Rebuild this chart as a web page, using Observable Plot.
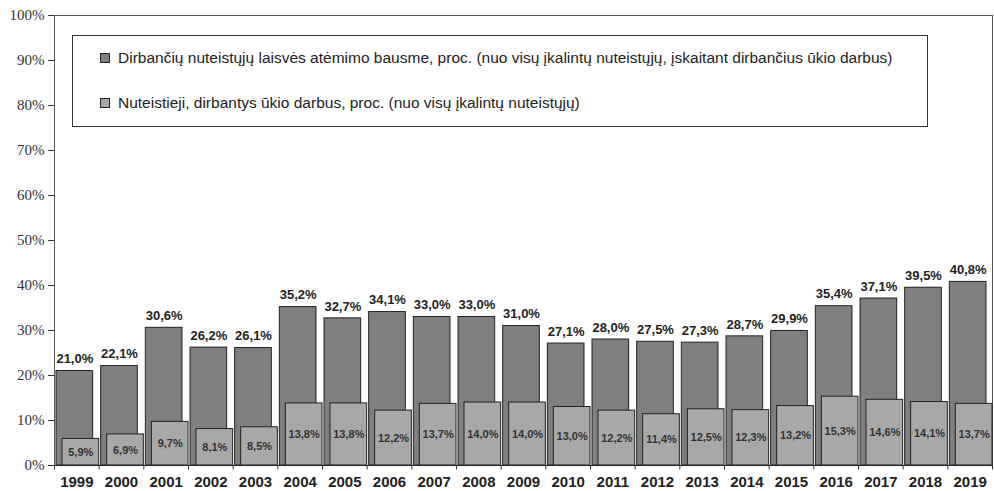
<!DOCTYPE html>
<html>
<head>
<meta charset="utf-8">
<script src="https://cdn.jsdelivr.net/npm/d3@7"></script>
<script src="https://cdn.jsdelivr.net/npm/@observablehq/plot@0.6"></script>
<style>
  html, body { margin: 0; padding: 0; background: #fff; }
  #wrap { position: relative; width: 994px; height: 491px; }
  #legend {
    position: absolute; left: 72px; top: 35px; width: 856px; height: 92px;
    border: 1px solid #333; background: #fff; box-sizing: border-box;
    font-family: "Liberation Sans", Arial, sans-serif; font-size: 15.5px; color: #222;
  }
  .row { position: absolute; left: 27px; display: flex; align-items: center; white-space: nowrap; }
  .sw { width: 8px; height: 8px; border: 1px solid #222; margin-right: 8px; }
</style>
</head>
<body>
<div id="wrap"></div>
<script>
const years = ["1999","2000","2001","2002","2003","2004","2005","2006","2007","2008","2009","2010","2011","2012","2013","2014","2015","2016","2017","2018","2019"];
const working = [21.0,22.1,30.6,26.2,26.1,35.2,32.7,34.1,33.0,33.0,31.0,27.1,28.0,27.5,27.3,28.7,29.9,35.4,37.1,39.5,40.8];
const farm = [5.9,6.9,9.7,8.1,8.5,13.8,13.8,12.2,13.7,14.0,14.0,13.0,12.2,11.4,12.5,12.3,13.2,15.3,14.6,14.1,13.7];
const yTicks = [0,10,20,30,40,50,60,70,80,90,100];
const seriesNames = [
  "Dirbančių nuteistųjų laisvės atėmimo bausme, proc. (nuo visų įkalintų nuteistųjų, įskaitant dirbančius ūkio darbus)",
  "Nuteistieji, dirbantys ūkio darbus, proc. (nuo visų įkalintų nuteistųjų)"
];
const colors = ["#7f7f7f", "#a8a8a8"];

const rows = years.map((y, i) => ({year: y, working: working[i], farm: farm[i]}));
const fmt = v => v.toFixed(1).replace(".", ",") + "%";

const W = 994, H = 491, ml = 54, mr = 2;
const bw = (W - ml - mr) / years.length;

const chart = Plot.plot({
  width: W, height: H,
  marginLeft: ml, marginRight: mr, marginTop: 15, marginBottom: 26,
  style: {fontFamily: "Liberation Sans, Arial, sans-serif", background: "#fff", overflow: "visible"},
  x: {type: "band", domain: years, padding: 0, round: false},
  y: {domain: [0, 100], ticks: yTicks},
  marks: [
    Plot.frame({stroke: "#555"}),
    Plot.axisY({ticks: yTicks, tickFormat: d => d + "%", tickSize: 6, tickPadding: 4,
      fontFamily: "Liberation Serif, Times New Roman, serif", fontSize: 15, fill: "#333", stroke: "#333", label: null}),
    Plot.axisX({tickSize: 0, tickPadding: 11, fontWeight: "bold", fontSize: 15, fill: "#222", label: null}),
    Plot.barY(rows, {x: "year", y: "working", fill: colors[0], stroke: "#222", strokeWidth: 1, insetLeft: 2, insetRight: 6}),
    Plot.barY(rows, {x: "year", y: "farm", fill: colors[1], stroke: "#222", strokeWidth: 1, insetLeft: 8, insetRight: 0}),
    Plot.text(rows, {x: "year", y: "working", text: d => fmt(d.working), dx: (2 + bw - 6) / 2 - bw / 2, dy: -12,
      fontWeight: "bold", fontSize: 13, fill: "#222"}),
    Plot.text(rows, {x: "year", y: d => d.farm / 2, text: d => fmt(d.farm), dx: (8 + bw) / 2 - bw / 2,
      fontWeight: "bold", fontSize: 11, fill: "#333"}),
    Plot.ruleY([0], {stroke: "#222"}),
    Plot.ruleX(years, {x: d => d, dx: -bw / 2, y1: 0, y2: -1, stroke: "#333", clip: false}),
    Plot.ruleX([years[years.length - 1]], {x: d => d, dx: bw / 2, y1: 0, y2: -1, stroke: "#333", clip: false})
  ]
});

const wrap = document.getElementById("wrap");
wrap.appendChild(chart);
const leg = document.createElement("div");
leg.id = "legend";
seriesNames.forEach((name, i) => {
  const r = document.createElement("div");
  r.className = "row";
  r.style.top = (i === 0 ? 13 : 58) + "px";
  const sw = document.createElement("span");
  sw.className = "sw";
  sw.style.background = colors[i];
  const t = document.createElement("span");
  t.textContent = name;
  r.appendChild(sw); r.appendChild(t);
  leg.appendChild(r);
});
wrap.appendChild(leg);
</script>
</body>
</html>
